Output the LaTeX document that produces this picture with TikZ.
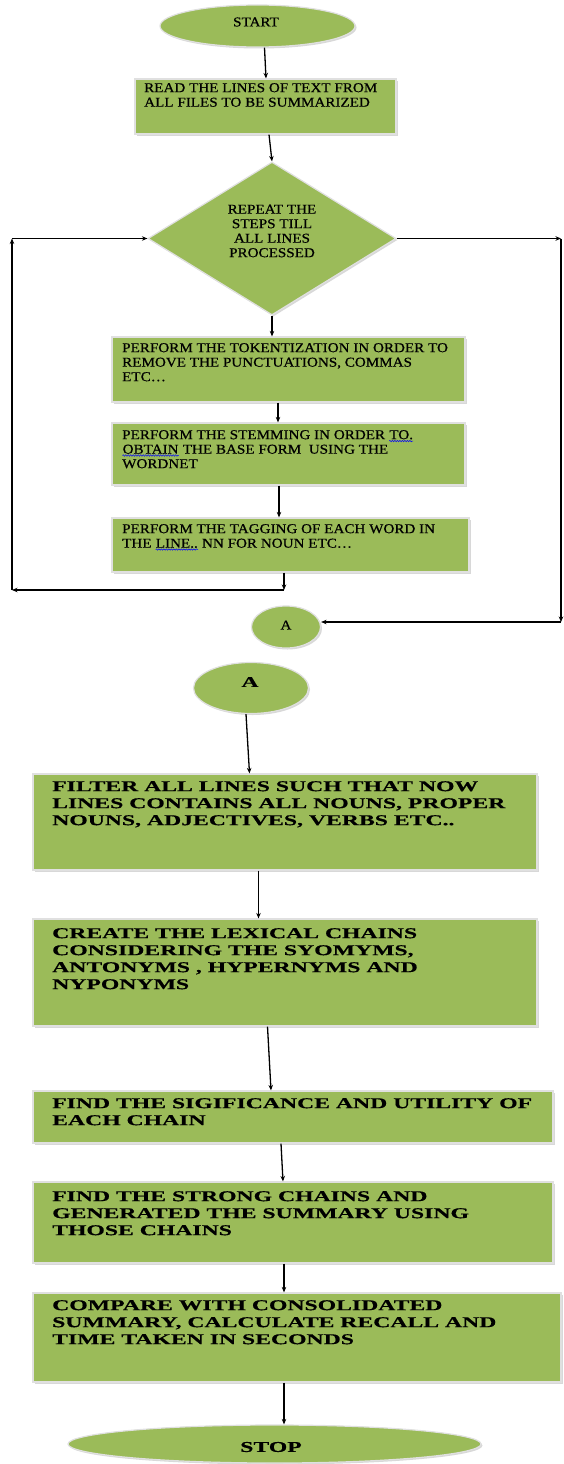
\documentclass[tikz,border=0pt]{standalone}
\usepackage{fontspec}
\setmainfont{Liberation Serif}
\newfontfamily\upfont[FakeStretch=1.12,FakeBold=0.6]{Liberation Serif}
\newfontfamily\lowfont[FakeStretch=1.58,FakeBold=0.5]{Liberation Serif}
\usetikzlibrary{shapes.geometric,shadows,arrows.meta,decorations.pathmorphing}
\definecolor{boxgreen}{HTML}{9BBB59}
\newcommand\spellwave[1]{\tikz[baseline=(w.base)]{\node[inner sep=0pt,anchor=base] (w) {#1};
  \draw[blue,line width=0.5pt,decorate,decoration={snake,amplitude=0.7pt,segment length=2.5pt}]
   ([yshift=-1.5pt]w.south west) -- ([yshift=-1.5pt]w.south east);}}
\begin{document}
\begin{tikzpicture}[x=1pt,y=-1pt,
  shp/.style={fill=boxgreen,draw=white!88!black,line width=1.2pt,inner sep=0pt,
    drop shadow={shadow xshift=1.5pt,shadow yshift=-1.5pt,fill=black!30,opacity=0.5}},
  boxnode/.style={shp,rectangle},
  ovalnode/.style={shp,ellipse},
  decnode/.style={shp,diamond},
  uptext/.style={inner sep=0pt,align=left,font=\upfont\fontsize{13.5}{14.5}\selectfont},
  lowtext/.style={inner sep=0pt,align=left,font=\lowfont\bfseries\fontsize{15}{17}\selectfont},
  arr/.style={-{Stealth[length=5.5pt,width=4.5pt]},line width=1.3pt}]
\fill[white] (0,0) rectangle (563,1464);
\useasboundingbox (0,0) rectangle (563,1464);

% shapes
\node[ovalnode,minimum width=195pt,minimum height=42pt] (start) at (257.5,26) {};
\node[boxnode,minimum width=261pt,minimum height=55pt] (read) at (265.5,106.5) {};
\node[decnode,minimum width=248pt,minimum height=153pt] (dec) at (272,238.5) {};
\node[boxnode,minimum width=353pt,minimum height=65pt] (token) at (288.5,369.5) {};
\node[boxnode,minimum width=353pt,minimum height=62pt] (stem) at (288.5,454) {};
\node[boxnode,minimum width=357pt,minimum height=54pt] (tag) at (290.5,545) {};
\node[ovalnode,minimum width=69pt,minimum height=42pt] (A1) at (286,627) {};
\node[ovalnode,minimum width=115pt,minimum height=51pt] (A2) at (251,688) {};
\node[boxnode,minimum width=504pt,minimum height=96pt] (filter) at (285,822) {};
\node[boxnode,minimum width=504pt,minimum height=107pt] (create) at (285,972.5) {};
\node[boxnode,minimum width=520pt,minimum height=52pt] (sig) at (293,1117) {};
\node[boxnode,minimum width=520pt,minimum height=81pt] (strong) at (293,1222.5) {};
\node[boxnode,minimum width=528pt,minimum height=89pt] (compare) at (297,1337.5) {};
\node[ovalnode,minimum width=413pt,minimum height=38pt] (stop) at (274.5,1444) {};

% texts
\node[uptext] (tstart) at (256,22) {START};
\node[uptext,anchor=north west] (tread) at (144,83) {READ THE LINES OF TEXT FROM\\ALL FILES TO BE SUMMARIZED};
\node[uptext,align=center] (tdec) at (272,231) {REPEAT THE\\STEPS TILL\\ALL LINES\\PROCESSED};
\node[uptext,anchor=north west] (ttoken) at (122,343) {PERFORM THE TOKENTIZATION IN ORDER TO\\REMOVE THE PUNCTUATIONS, COMMAS\\ETC…};
\node[uptext,anchor=north west] (tstem) at (122,430) {PERFORM THE STEMMING IN ORDER \spellwave{TO.}\\\spellwave{OBTAIN} THE BASE FORM\ \ USING THE\\WORDNET};
\node[uptext,anchor=north west] (ttag) at (122,524) {PERFORM THE TAGGING OF EACH WORD IN\\THE \spellwave{LINE..} NN FOR NOUN ETC…};
\node[uptext] (tA1) at (286,625) {A};
\node[lowtext] (tA2) at (250,682) {A};
\node[lowtext,anchor=north west] (tfilter) at (52,781) {FILTER ALL LINES SUCH THAT NOW\\LINES CONTAINS ALL NOUNS, PROPER\\NOUNS, ADJECTIVES, VERBS ETC..};
\node[lowtext,anchor=north west] (tcreate) at (52,928) {CREATE THE LEXICAL CHAINS\\CONSIDERING THE SYOMYMS,\\ANTONYMS , HYPERNYMS AND\\NYPONYMS};
\node[lowtext,anchor=north west] (tsig) at (52,1098) {FIND THE SIGIFICANCE AND UTILITY OF\\EACH CHAIN};
\node[lowtext,anchor=north west] (tstrong) at (52,1191) {FIND THE STRONG CHAINS AND\\GENERATED THE SUMMARY USING\\THOSE CHAINS};
\node[lowtext,anchor=north west] (tcompare) at (52,1300) {COMPARE WITH CONSOLIDATED\\SUMMARY, CALCULATE RECALL AND\\TIME TAKEN IN SECONDS};
\node[lowtext] (tstop) at (271,1447) {STOP};

% loop corners
\coordinate (c1) at (284,590);
\coordinate (c2) at (12,590);
\coordinate (c3) at (12,238.5);
\coordinate (c4) at (561,238.5);
\coordinate (c5) at (561,622);

% connectors
\draw[arr] ([xshift=7pt]start.south) -- ([xshift=0.5pt]read.north);
\draw[arr] ([xshift=3.5pt]read.south) -- (dec.north);
\draw[arr] (dec.south) -- ([xshift=-16.5pt]token.north);
\draw[arr] ([xshift=-10.5pt]token.south) -- ([xshift=-10.5pt]stem.north);
\draw[arr] ([xshift=-9.5pt]stem.south) -- ([xshift=-11.5pt]tag.north);
\draw[arr] ([xshift=-6.5pt]tag.south) -- (c1);
\draw[arr] (c1) -- (c2);
\draw[arr] (c2) -- (c3);
\draw[arr] (c3) -- (dec.west);
\draw[arr] (dec.east) -- (c4);
\draw[arr] (c4) -- (c5);
\draw[arr] (c5) -- (c5 -| A1.east);
\draw[arr] ([xshift=-5pt]A2.south) -- ([xshift=-35.5pt]filter.north);
\draw[arr] ([xshift=-26.5pt]filter.south) -- ([xshift=-26.5pt]create.north);
\draw[arr] ([xshift=-17.5pt]create.south) -- ([xshift=-22pt]sig.north);
\draw[arr] ([xshift=-12pt]sig.south) -- ([xshift=-10pt]strong.north);
\draw[arr] ([xshift=-9pt]strong.south) -- ([xshift=-13pt]compare.north);
\draw[arr] ([xshift=-13pt]compare.south) -- ([xshift=9.5pt]stop.north);
\end{tikzpicture}
\end{document}
